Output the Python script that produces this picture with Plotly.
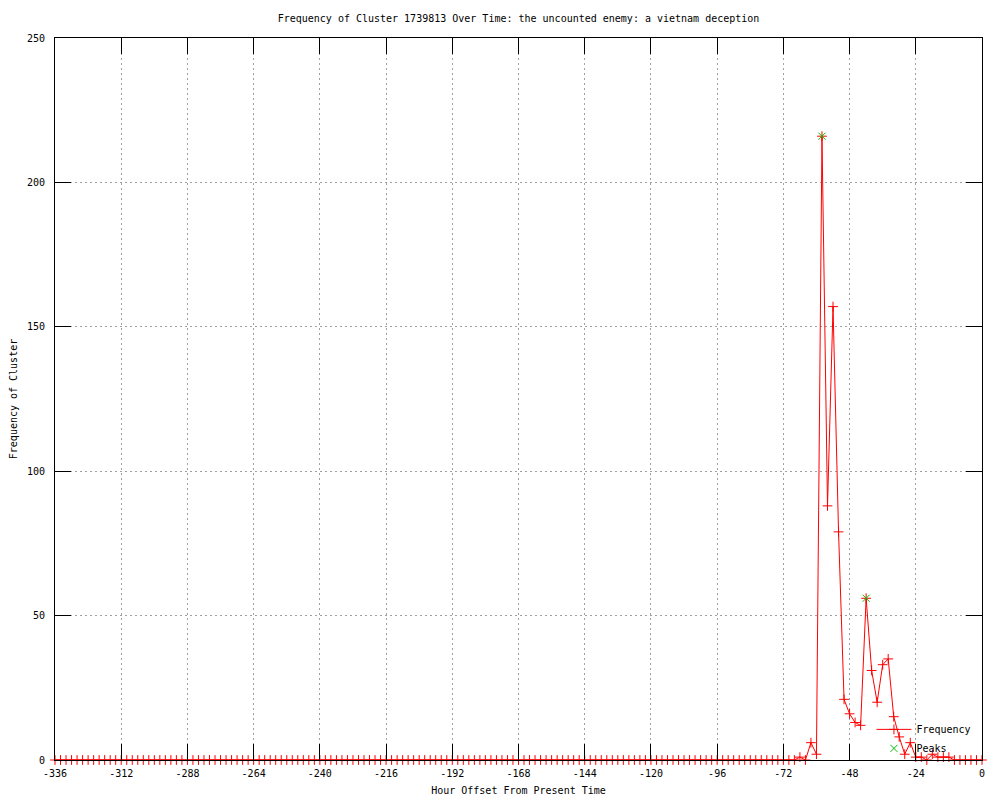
import plotly.graph_objects as go

# hour offsets (every 2 hours) and cluster frequency
hours = list(range(-336, 1, 2))
frequency = [
    0, 0, 0, 0, 0, 0, 0, 0, 0, 0, 0, 0, 0, 0, 0, 0, 0, 0, 0, 0,
    0, 0, 0, 0, 0, 0, 0, 0, 0, 0, 0, 0, 0, 0, 0, 0, 0, 0, 0, 0,
    0, 0, 0, 0, 0, 0, 0, 0, 0, 0, 0, 0, 0, 0, 0, 0, 0, 0, 0, 0,
    0, 0, 0, 0, 0, 0, 0, 0, 0, 0, 0, 0, 0, 0, 0, 0, 0, 0, 0, 0,
    0, 0, 0, 0, 0, 0, 0, 0, 0, 0, 0, 0, 0, 0, 0, 0, 0, 0, 0, 0,
    0, 0, 0, 0, 0, 0, 0, 0, 0, 0, 0, 0, 0, 0, 0, 0, 0, 0, 0, 0,
    0, 0, 0, 0, 0, 0, 0, 0, 0, 0, 0, 0, 0, 0, 0,
    # -66 .. 0
    1, 0, 6, 2, 216, 88, 157, 79, 21, 16, 13, 12, 56, 31, 20, 33, 35,
    15, 8, 2, 6, 1, 1, 0, 2, 1, 1, 1, 0, 0, 0, 0, 0, 0,
]

peak_hours = [-58, -42]
peak_values = [216, 56]

x_ticks = [-336, -312, -288, -264, -240, -216, -192, -168, -144, -120, -96, -72, -48, -24, 0]
y_ticks = [0, 50, 100, 150, 200, 250]

font = "DejaVu Sans Mono"
text_font = dict(family=font, size=10, color="black")

fig = go.Figure()

fig.add_trace(go.Scatter(
    x=hours, y=frequency, name="Frequency",
    mode="lines+markers",
    line=dict(color="#ff0000", width=1),
    marker=dict(symbol="cross-thin-open", size=7, color="#ff0000",
                line=dict(color="#ff0000", width=1)),
    cliponaxis=False,
))

fig.add_trace(go.Scatter(
    x=peak_hours, y=peak_values, name="Peaks",
    mode="markers",
    marker=dict(symbol="x-thin-open", size=7, color="#00c000",
                line=dict(color="#00c000", width=1)),
    cliponaxis=False,
))

axis_common = dict(
    showline=True, linecolor="black", linewidth=1, mirror="ticks",
    ticks="inside", ticklen=16, tickcolor="black", tickwidth=1,
    showgrid=True, gridcolor="#a0a0a0", gridwidth=1, griddash="2px,3px",
    zeroline=False, automargin=False,
    tickfont=text_font,
)

fig.update_xaxes(
    range=[-336, 0], tickvals=x_ticks, ticktext=[str(v) for v in x_ticks],
    ticklabelstandoff=4,
    title=dict(text="Hour Offset From Present Time", font=text_font, standoff=8),
    **axis_common,
)
fig.update_yaxes(
    range=[0, 250], tickvals=y_ticks, ticktext=[str(v) for v in y_ticks],
    ticklabelstandoff=7,
    title=dict(text="Frequency of Cluster", font=text_font, standoff=8),
    **axis_common,
)

# the page adds an 8px body margin, so margins are shifted to compensate
fig.update_layout(
    width=1000, height=800,
    margin=dict(l=47, r=26, t=30, b=48),
    paper_bgcolor="white", plot_bgcolor="white",
    title=dict(
        text="Frequency of Cluster 1739813 Over Time: the uncounted enemy: a vietnam deception",
        font=text_font,
        x=0.5, xref="paper", xanchor="center", y=0.9875, yanchor="middle",
    ),
    legend=dict(
        x=0.994, y=-0.004, xanchor="right", yanchor="bottom",
        bgcolor="rgba(0,0,0,0)", borderwidth=0,
        font=text_font,
        tracegroupgap=0, itemwidth=35,
    ),
    showlegend=True,
)

fig.write_html("out.html")
